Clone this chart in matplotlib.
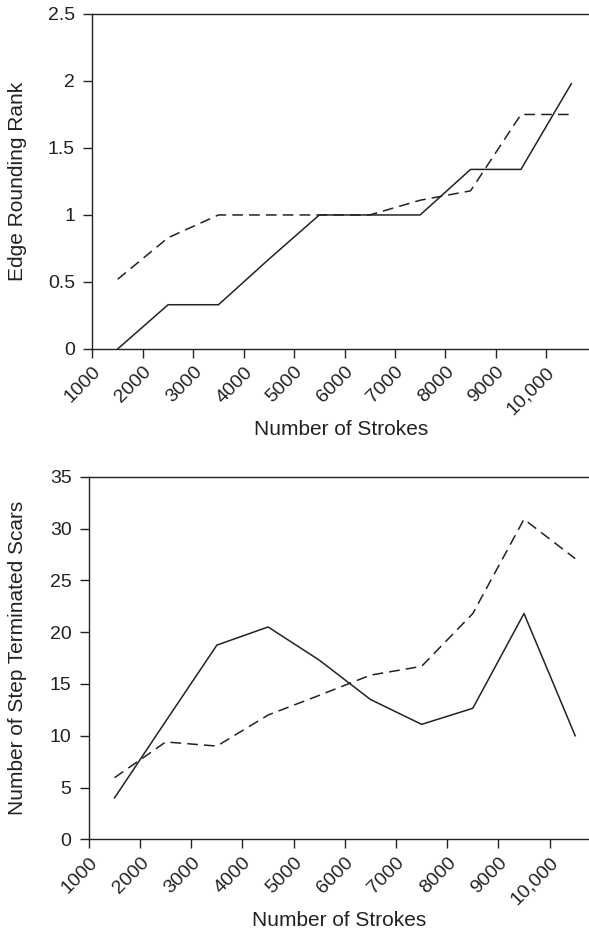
import matplotlib.pyplot as plt

plt.rcParams['font.family'] = ['Liberation Sans', 'DejaVu Sans']

# midpoints of each 1000-stroke interval
strokes = [1500, 2500, 3500, 4500, 5500, 6500, 7500, 8500, 9500, 10500]
tick_vals = [1000, 2000, 3000, 4000, 5000, 6000, 7000, 8000, 9000, 10000]
tick_labels = ['1000', '2000', '3000', '4000', '5000', '6000', '7000', '8000', '9000', '10,000']

rank_solid = [0, 0.33, 0.33, 0.67, 1.0, 1.0, 1.0, 1.34, 1.34, 1.98]
rank_dashed = [0.52, 0.83, 1.0, 1.0, 1.0, 1.0, 1.11, 1.18, 1.75, 1.75]

scars_solid = [4.0, 11.4, 18.75, 20.5, 17.3, 13.5, 11.1, 12.65, 21.8, 10.0]
scars_dashed = [5.95, 9.4, 9.0, 12.0, 13.9, 15.85, 16.7, 21.8, 30.9, 27.1]

fig = plt.figure(figsize=(5.89, 9.33), dpi=100)
ax1 = fig.add_axes([0.157, 0.626, 0.843, 0.359])
ax2 = fig.add_axes([0.151, 0.1004, 0.849, 0.3886])

col = '#222222'
dash = (0, (7, 4))
tick_fs = 14
label_fs = 15


def style(ax, xmax):
    ax.set_xlim(1000, xmax)
    ax.set_xticks(tick_vals)
    ax.set_xticklabels(tick_labels, rotation=45, ha='right', rotation_mode='anchor')
    ax.tick_params(direction='out', length=6.5, width=1, colors=col, labelsize=tick_fs)
    ax.tick_params(axis='y', pad=6)
    ax.tick_params(axis='x', pad=4)
    ax.spines['right'].set_visible(False)
    for s in ['left', 'bottom', 'top']:
        ax.spines[s].set_color(col)
        ax.spines[s].set_linewidth(1)
    ax.set_xlabel('Number of Strokes', fontsize=label_fs, color=col, va='center')


ax1.plot(strokes, rank_solid, color=col, lw=1.1)
ax1.plot(strokes, rank_dashed, color=col, lw=1.1, linestyle=dash)
ax1.set_ylim(0, 2.5)
ax1.set_yticks([0, 0.5, 1, 1.5, 2, 2.5])
ax1.set_yticklabels(['0', '0.5', '1', '1.5', '2', '2.5'])
ax1.set_ylabel('Edge Rounding Rank', fontsize=label_fs, color=col, va='center')
style(ax1, 10850)
ax1.xaxis.set_label_coords(0.5, -0.242)
ax1.yaxis.set_label_coords(-0.151, 0.5)

ax2.plot(strokes, scars_solid, color=col, lw=1.1)
ax2.plot(strokes, scars_dashed, color=col, lw=1.1, linestyle=dash)
ax2.set_ylim(0, 35)
ax2.set_yticks([0, 5, 10, 15, 20, 25, 30, 35])
ax2.set_ylabel('Number of Step Terminated Scars', fontsize=label_fs, color=col, va='center')
style(ax2, 10770)
ax2.xaxis.set_label_coords(0.5, -0.2226)
ax2.yaxis.set_label_coords(-0.142, 0.5)

fig.savefig('out.png', dpi=100)
